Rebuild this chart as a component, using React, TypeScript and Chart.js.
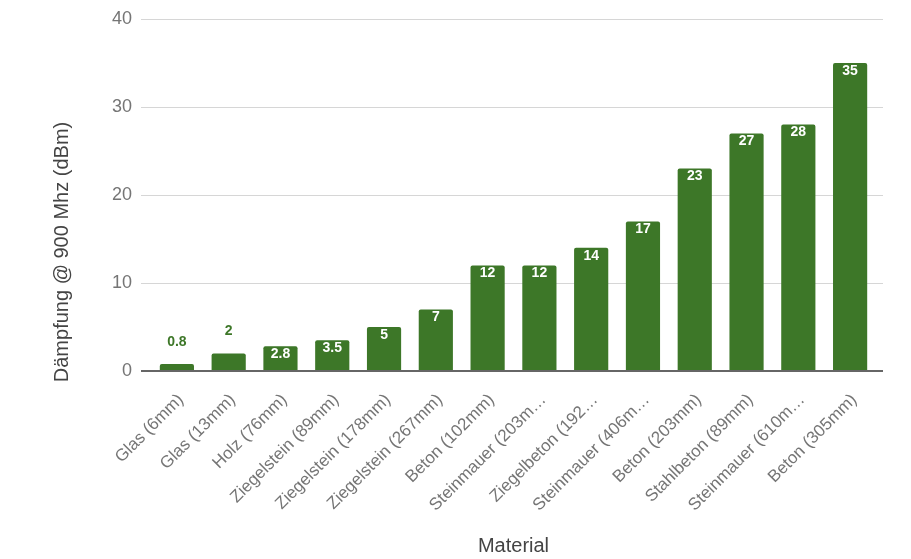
import { Chart, registerables, type ChartConfiguration, type Plugin } from "chart.js";
import { useEffect, useRef } from "react";

Chart.register(...registerables);

// displayed category labels (Google-style truncation kept as seen)
const tickLabels = [
  "Glas (6mm)",
  "Glas (13mm)",
  "Holz (76mm)",
  "Ziegelstein (89mm)",
  "Ziegelstein (178mm)",
  "Ziegelstein (267mm)",
  "Beton (102mm)",
  "Steinmauer (203m…",
  "Ziegelbeton (192…",
  "Steinmauer (406m…",
  "Beton (203mm)",
  "Stahlbeton (89mm)",
  "Steinmauer (610m…",
  "Beton (305mm)",
];
const attenuation = [0.8, 2, 2.8, 3.5, 5, 7, 12, 12, 14, 17, 23, 27, 28, 35];
const yTicks = [0, 10, 20, 30, 40];
const yTitle = "Dämpfung @ 900 Mhz (dBm)";

const FONT = "'Liberation Sans', Arial, sans-serif";
const BAR_GREEN = "#3d7728";

const gridPlugin: Plugin<"bar"> = {
  id: "extendedGrid",
  beforeDatasetsDraw(chart) {
    const { ctx, chartArea } = chart;
    const y = chart.scales.y;
    ctx.save();
    ctx.lineWidth = 1;
    ctx.strokeStyle = "#d6d6d6";
    y.ticks.forEach((t) => {
      if (t.value === 0) return;
      const py = Math.round(y.getPixelForValue(t.value)) + 0.5;
      ctx.beginPath();
      ctx.moveTo(chartArea.left - 10, py);
      ctx.lineTo(chartArea.right + 7, py);
      ctx.stroke();
    });

    // y axis title, sits a bit below the middle like in the source
    ctx.translate(62, 252);
    ctx.rotate(-Math.PI / 2);
    ctx.font = `20px ${FONT}`;
    ctx.fillStyle = "#444";
    ctx.textAlign = "center";
    ctx.textBaseline = "middle";
    ctx.fillText(yTitle, 0, 0);
    ctx.restore();
  },
  afterDatasetsDraw(chart) {
    const { ctx, chartArea } = chart;
    const y = chart.scales.y;
    const py = Math.round(y.getPixelForValue(0));
    ctx.save();
    ctx.strokeStyle = "#666";
    ctx.lineWidth = 2;
    ctx.beginPath();
    ctx.moveTo(chartArea.left - 10, py);
    ctx.lineTo(chartArea.right + 7, py);
    ctx.stroke();

    // value labels
    const meta = chart.getDatasetMeta(0);
    ctx.font = `bold 14px ${FONT}`;
    ctx.textAlign = "center";
    ctx.textBaseline = "middle";
    meta.data.forEach((bar, i) => {
      const { x, y: top, base } = bar.getProps(["x", "y", "base"], true) as any;
      const text = String(attenuation[i]);
      if (base - top >= 20) {
        ctx.fillStyle = "#ffffff";
        ctx.fillText(text, x, top + 8);
      } else {
        ctx.fillStyle = BAR_GREEN;
        ctx.fillText(text, x, top - 22);
      }
    });
    ctx.restore();
  },
};

export default function App() {
  const canvasRef = useRef<HTMLCanvasElement | null>(null);

  useEffect(() => {
    if (!canvasRef.current) return;
    const config: ChartConfiguration<"bar", number[], string> = {
      type: "bar",
      data: {
        labels: tickLabels,
        datasets: [
          {
            label: "Dämpfung",
            data: attenuation,
            backgroundColor: BAR_GREEN,
            borderRadius: 2,
            borderSkipped: "bottom",
            barPercentage: 0.66,
            categoryPercentage: 1,
          },
        ],
      },
      options: {
        animation: false,
        responsive: true,
        maintainAspectRatio: false,
        layout: { padding: { top: 19, right: 35, left: 0, bottom: 0 } },
        plugins: {
          legend: { display: false },
          tooltip: { enabled: false },
        },
        scales: {
          x: {
            grid: { display: false, drawTicks: false },
            border: { display: false },
            afterFit: (scale) => {
              scale.height = 188;
            },
            ticks: {
              minRotation: 45,
              maxRotation: 45,
              autoSkip: false,
              padding: 19,
              labelOffset: 4,
              color: "#757575",
              font: { family: FONT, size: 17 },
            },
            title: {
              display: true,
              text: "Material",
              color: "#444",
              font: { family: FONT, size: 20 },
              padding: { top: 0, bottom: 1 },
            },
          },
          y: {
            min: 0,
            max: 40,
            afterBuildTicks: (scale) => {
              scale.ticks = yTicks.map((v) => ({ value: v }));
            },
            afterFit: (scale) => {
              scale.width = 151;
              scale.paddingTop = 0;
              scale.paddingBottom = 0;
            },
            grid: { display: false, drawTicks: false },
            border: { display: false },
            ticks: {
              padding: 19,
              color: "#757575",
              font: { family: FONT, size: 18 },
            },
          },
        },
      },
      plugins: [gridPlugin],
    };
    const chart = new Chart(canvasRef.current, config);
    return () => chart.destroy();
  }, []);

  return (
    <div style={{ position: "fixed", left: 0, top: 0, width: 911, height: 559, background: "#fff" }}>
      <canvas ref={canvasRef}></canvas>
    </div>
  );
}
